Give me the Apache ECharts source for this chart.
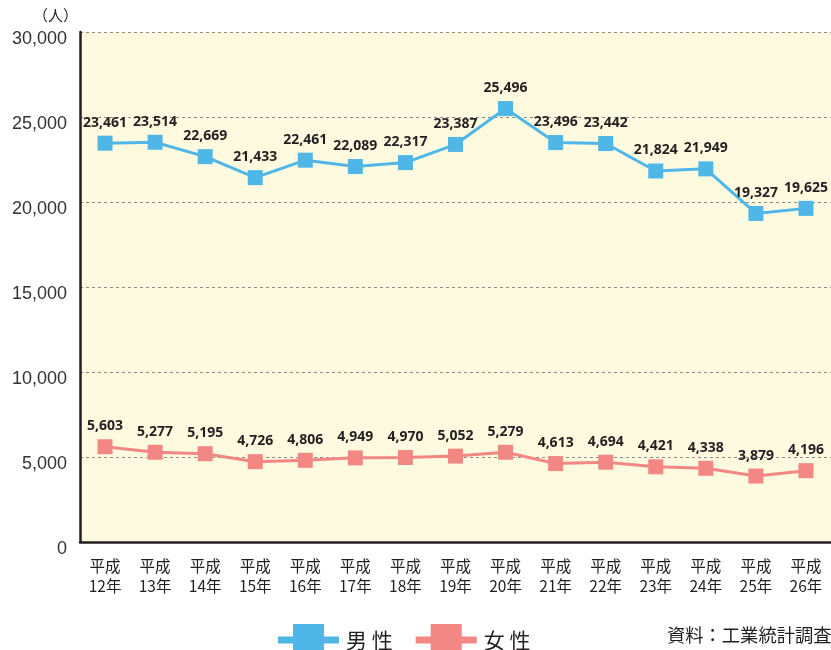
<!DOCTYPE html>
<html><head><meta charset="utf-8">
<script src="https://cdn.jsdelivr.net/npm/echarts@6/dist/echarts.min.js"></script>
<style>html,body{margin:0;padding:0;background:#fff}#c{width:831px;height:650px}</style>
</head><body><div id="c"></div>
<script>
const categories = ['平成\n12年','平成\n13年','平成\n14年','平成\n15年','平成\n16年','平成\n17年','平成\n18年','平成\n19年','平成\n20年','平成\n21年','平成\n22年','平成\n23年','平成\n24年','平成\n25年','平成\n26年'];
const male = [23461,23514,22669,21433,22461,22089,22317,23387,25496,23496,23442,21824,21949,19327,19625];
const female = [5603,5277,5195,4726,4806,4949,4970,5052,5279,4613,4694,4421,4338,3879,4196];
const seriesNames = ['男 性','女 性'];
const unitLabel = '（人）';
const sourceText = '資料：工業統計調査';

const chart = echarts.init(document.getElementById('c'), null, {renderer:'canvas'});
const txt = '#231f20';
const legendIcon = 'path://M0,12.5H15V0H46V12.5H61V19.5H46V32H15V19.5H0Z';
const lbl = {show:true, position:'top', distance:6, color:txt, fontWeight:'bold', fontSize:14,
  fontFamily:'"Open Sans",sans-serif',
  formatter: p => p.value.toLocaleString('en-US')};
chart.setOption({
  backgroundColor:'#fff',
  animation:false,
  grid:{left:80, right:-3, top:32, bottom:108, show:true, backgroundColor:'#fefae0', borderWidth:0},
  legend:{top:624, left:278, itemWidth:61, itemHeight:32, itemGap:23, padding:0,
    textStyle:{fontSize:21, color:txt, padding:[0,0,0,2], fontFamily:'"Noto Sans CJK JP",sans-serif'},
    data:[{name:seriesNames[0], icon:legendIcon},{name:seriesNames[1], icon:legendIcon}]},
  graphic:[
    {type:'text', left:667, top:626, style:{text:sourceText, fontSize:18.3, fill:txt, fontFamily:'"Noto Sans CJK JP",sans-serif'}},
    {type:'text', left:33, top:8, style:{text:unitLabel, fontSize:15, fill:txt, fontFamily:'"Noto Sans CJK JP",sans-serif'}}
  ],
  xAxis:{type:'category', data:categories, boundaryGap:true,
    axisLine:{lineStyle:{color:txt, width:2.5}},
    axisTick:{inside:true, length:9, lineStyle:{color:txt, width:2.5}},
    axisLabel:{color:txt, fontSize:15.5, lineHeight:20, margin:14, fontFamily:'"Noto Sans CJK JP",sans-serif'}},
  yAxis:{type:'value', min:0, max:30000, interval:5000,
    axisLine:{show:true, lineStyle:{color:txt, width:2.5}},
    axisTick:{show:false},
    axisLabel:{color:'#333', fontSize:18, margin:13, verticalAlign:'top', lineHeight:14, fontFamily:'"Liberation Sans",sans-serif',
      formatter: v => v.toLocaleString('en-US')},
    splitLine:{lineStyle:{color:'#8a8a8a', type:[3,3], width:1}}},
  series:[
    {name:seriesNames[0], type:'line', data:male, symbol:'rect', symbolSize:15,
      itemStyle:{color:'#4fb6e8'}, lineStyle:{color:'#4fb6e8', width:3}, label:lbl, z:3},
    {name:seriesNames[1], type:'line', data:female, symbol:'rect', symbolSize:15,
      itemStyle:{color:'#f28784'}, lineStyle:{color:'#f28784', width:3}, label:lbl, z:3}
  ]
});
</script></body></html>
